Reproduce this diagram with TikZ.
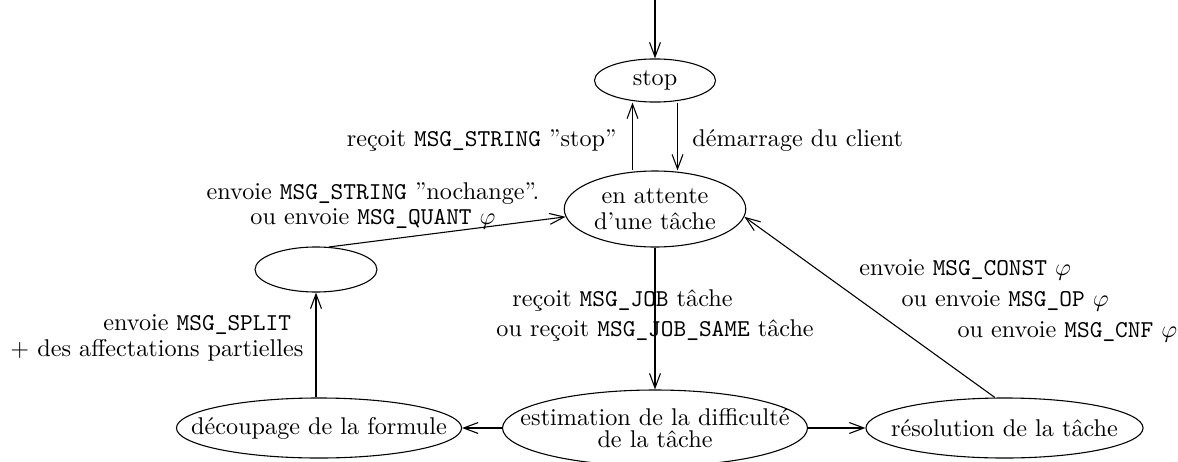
\documentclass[tikz,border=0pt]{standalone}
\usetikzlibrary{shapes,arrows.meta}
\tikzstyle{etat} = [ellipse, draw=black, line width=0.45pt, inner ysep=0pt, inner xsep=-14pt, text centered]
\tikzstyle{fl} = [-{Straight Barb[length=6pt,width=4.5pt]}, line width=0.45pt]
\tikzstyle{lbl} = [inner sep=0pt]

\begin{document}
\begin{tikzpicture}[x=0.4132pt,y=-0.4132pt]
		\useasboundingbox (0,0) rectangle (1178,461);
		\node[etat,minimum width=50pt,minimum height=17.8pt](stop) at (655,80.5){stop};
		\node[etat,minimum width=75pt,minimum height=31.4pt,align=center](attente) at (655,209){en attente\\[-1.3pt]d’une tâche};
		\node[etat,minimum width=50.4pt,minimum height=18.6pt](vide) at (316,269.5){};
		\node[etat,minimum width=117.8pt,minimum height=24.8pt](decoupage) at (319,428){découpage de la formule};
		\node[etat,minimum width=126pt,minimum height=31.4pt,align=center](estimation) at (655,428){estimation de la difficulté\\[-3pt]de la tâche};
		\node[etat,minimum width=114.5pt,minimum height=24.8pt](resolution) at (1004.5,428){résolution de la tâche};
		\coordinate (depart) at (655,0);
		
		\node[lbl,anchor=east](l1) at (617,141){reçoit \texttt{MSG\_STRING} ”stop”};
		\node[lbl,anchor=west](l2) at (692,141){démarrage du client};
		\node[lbl,align=center](l3) at (373,206){envoie \texttt{MSG\_STRING} ”nochange”.\\[-2pt]ou envoie \texttt{MSG\_QUANT} $\varphi$};
		\node[lbl,anchor=west,align=left](l4) at (496,316){\hspace*{6.6pt}reçoit \texttt{MSG\_JOB} tâche\\[0.4pt]ou reçoit \texttt{MSG\_JOB\_SAME} tâche};
		\node[lbl,anchor=west,align=left](l5) at (859,301){envoie \texttt{MSG\_CONST} $\varphi$\\[0.8pt]\hspace*{17.4pt}ou envoie \texttt{MSG\_OP} $\varphi$\\[0.8pt]\hspace*{40.5pt}ou envoie \texttt{MSG\_CNF} $\varphi$};
		\node[lbl,anchor=west,align=left](l6) at (10,338){\hspace*{38.4pt}envoie \texttt{MSG\_SPLIT}\\[-1pt]$+$ des affectations partielles};
		
		\draw[fl] (depart)--(stop);
		\draw[fl] ([xshift=9.3pt]stop.south)--([xshift=9.3pt]attente.north);
		\draw[fl] ([xshift=-9.3pt]attente.north)--([xshift=-9.3pt]stop.south);
		\draw[fl] (attente)--(estimation);
		\draw[fl] (estimation)--(decoupage);
		\draw[fl] (estimation)--(resolution);
		\draw[fl] (decoupage.north -| vide)--(vide);
		\draw[fl] (vide.60)--(attente.185);
		\draw[fl] ([xshift=-4pt]resolution.north)--(attente.355);
\end{tikzpicture}
\end{document}
